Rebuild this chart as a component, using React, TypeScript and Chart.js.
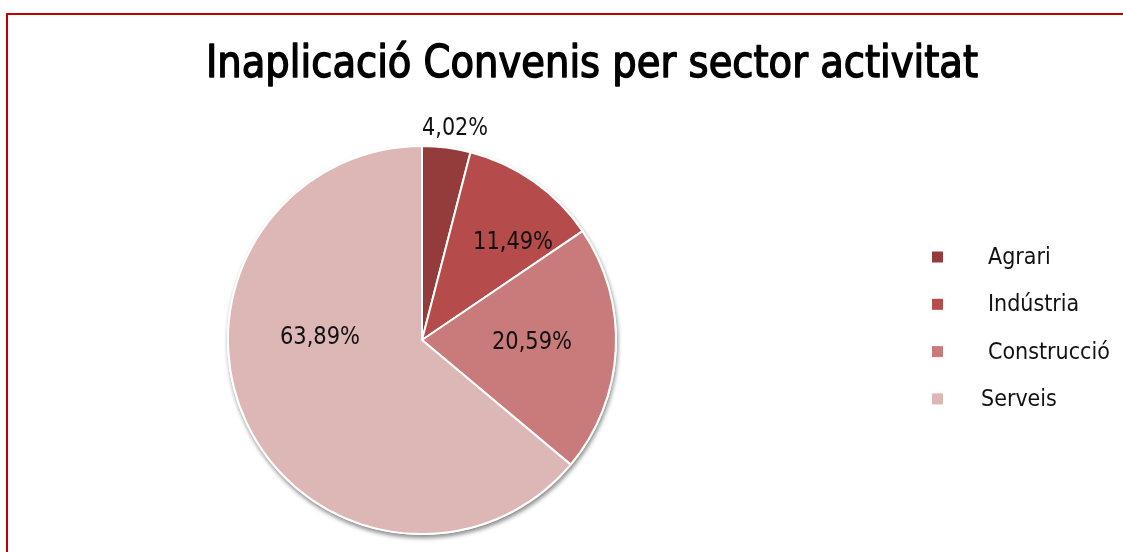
import React, { useEffect, useRef } from "react";
import { Chart, registerables } from "chart.js";

Chart.register(...registerables);

const TITLE = "Inaplicació Convenis per sector activitat";
const categories = ["Agrari", "Indústria", "Construcció", "Serveis"];
const values = [4.02, 11.49, 20.59, 63.89];
const valueLabels = ["4,02%", "11,49%", "20,59%", "63,89%"];
const colors = ["#943C3C", "#B54B4B", "#C97B7B", "#DDB6B6"];

// label placement relative to each arc: radius as fraction of outer radius, angle shift from mid-angle (deg)
const labelPlacement = [
  { r: 1.11, da: 1.6 },
  { r: 0.69, da: 7.7 },
  { r: 0.567, da: -1.9 },
  { r: 0.526, da: 26.7 },
];

const FONT = "'DejaVu Sans Condensed', 'Liberation Sans Narrow', sans-serif";

const decorPlugin = {
  id: "decor",
  beforeDatasetsDraw(chart: any) {
    const meta = chart.getDatasetMeta(0);
    const a = meta.data[0];
    if (!a) return;
    const ctx = chart.ctx;
    ctx.save();
    ctx.beginPath();
    ctx.arc(a.x, a.y, a.outerRadius + 1, 0, Math.PI * 2);
    ctx.shadowColor = "rgba(0,0,0,0.45)";
    ctx.shadowBlur = 4;
    ctx.shadowOffsetX = 1;
    ctx.shadowOffsetY = 3;
    ctx.fillStyle = "#ffffff";
    ctx.fill();
    ctx.restore();
  },
  afterDatasetsDraw(chart: any) {
    const ctx = chart.ctx;
    const meta = chart.getDatasetMeta(0);
    ctx.save();
    // value labels
    ctx.fillStyle = "#111111";
    ctx.font = `25px ${FONT}`;
    ctx.textAlign = "center";
    ctx.textBaseline = "middle";
    meta.data.forEach((arc: any, i: number) => {
      const p = labelPlacement[i];
      const mid = (arc.startAngle + arc.endAngle) / 2 + (p.da * Math.PI) / 180;
      const rr = arc.outerRadius * p.r;
      const w = valueLabels[i].length === 5 ? 66 : 80;
      ctx.fillText(valueLabels[i], arc.x + Math.cos(mid) * rr, arc.y + Math.sin(mid) * rr + 1, w);
    });
    // title
    ctx.font = `45px ${FONT}`;
    ctx.textBaseline = "alphabetic";
    ctx.fillStyle = "#000000";
    ctx.strokeStyle = "#000000";
    ctx.lineWidth = 1.4;
    ctx.lineJoin = "round";
    ctx.fillText(TITLE, 592, 77, 772);
    ctx.strokeText(TITLE, 592, 77, 772);
    // legend
    ctx.font = `23px ${FONT}`;
    ctx.textAlign = "left";
    ctx.textBaseline = "middle";
    const ds = chart.data.datasets[0];
    chart.data.labels.forEach((lab: string, i: number) => {
      const cy = 257 + i * 47.3;
      ctx.fillStyle = ds.backgroundColor[i];
      ctx.fillRect(932, cy - 5.5, 11, 11);
      ctx.fillStyle = "#111111";
      ctx.fillText(lab, i === 3 ? 981 : 988, cy + 1);
    });
    ctx.restore();
  },
};

export default function App() {
  const ref = useRef<HTMLCanvasElement | null>(null);
  useEffect(() => {
    if (!ref.current) return;
    const chart = new Chart(ref.current, {
      type: "pie",
      data: {
        labels: categories,
        datasets: [
          {
            data: values,
            backgroundColor: colors,
            borderColor: "#ffffff",
            borderWidth: 2,
          },
        ],
      },
      options: {
        animation: false,
        responsive: false,
        events: [],
        layout: { padding: { left: 227, right: 506, top: 145, bottom: 17 } },
        plugins: {
          legend: { display: false },
          title: { display: false },
          tooltip: { enabled: false },
        },
      },
      plugins: [decorPlugin],
    });
    return () => chart.destroy();
  }, []);
  return (
    <div style={{ position: "absolute", left: 0, top: 0, width: 1123, height: 552, background: "#fff", overflow: "hidden" }}>
      <canvas ref={ref} width={1123} height={552} style={{ position: "absolute", left: 0, top: 0 }} />
      <div
        style={{
          position: "absolute",
          left: 6,
          top: 13,
          width: 1300,
          height: 700,
          borderLeft: "2px solid #C00000",
          borderTop: "2px solid #C00000",
          pointerEvents: "none",
        }}
      />
    </div>
  );
}
